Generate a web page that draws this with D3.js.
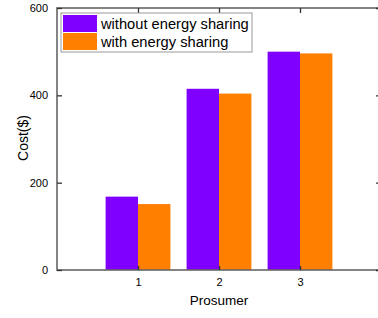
<!DOCTYPE html>
<html>
<head>
<meta charset="utf-8">
<script src="https://cdn.jsdelivr.net/npm/d3@7"></script>
<style>
body { margin: 0; background: #fff; }
text { font-family: Arial, "Liberation Sans", sans-serif; }
</style>
</head>
<body>
<script>
let categories = [1, 2, 3];
let withoutSharing = [168, 415, 500];
let withSharing = [151, 404, 496];
let seriesNames = ['without energy sharing', 'with energy sharing'];
let seriesColors = ['#8000ff', '#ff8000'];
let yTicks = [0, 200, 400, 600];

let W = 378, H = 318;
let padL = 57, padT = 8, plotW = 324, plotH = 262;

let svg = d3.select('body').append('svg')
    .attr('width', W)
    .attr('height', H);

let x = d3.scaleLinear().domain([0, 4]).range([padL, padL + plotW]);
let y = d3.scaleLinear().domain([0, 600]).range([padT + plotH, padT]);
let bw = x(0.4) - x(0);

let series = [withoutSharing, withSharing];
series.forEach(function(vals, s) {
    svg.append('g').selectAll('rect')
        .data(vals)
        .enter().append('rect')
            .attr('x', (d, i) => s == 0 ? x(categories[i]) - bw : x(categories[i]))
            .attr('y', d => y(d))
            .attr('width', bw)
            .attr('height', d => y(0) - y(d))
            .attr('fill', seriesColors[s]);
});

// frame
let frameColor = '#666';
svg.append('rect')
    .attr('x', padL).attr('y', padT)
    .attr('width', plotW).attr('height', plotH)
    .attr('fill', 'none')
    .attr('stroke', frameColor)
    .attr('stroke-width', 1.6);

// axes with inward ticks
let yAxisL = svg.append('g').attr('transform', 'translate(' + padL + ',0)')
    .call(d3.axisLeft(y).tickValues(yTicks).tickSize(-5).tickPadding(9));
let yAxisR = svg.append('g').attr('transform', 'translate(' + (padL + plotW) + ',0)')
    .call(d3.axisRight(y).tickValues(yTicks).tickSize(-5).tickFormat(''));
let xAxisB = svg.append('g').attr('transform', 'translate(0,' + (padT + plotH) + ')')
    .call(d3.axisBottom(x).tickValues(categories).tickSize(-4).tickPadding(8).tickFormat(d3.format('d')));
let xAxisT = svg.append('g').attr('transform', 'translate(0,' + padT + ')')
    .call(d3.axisTop(x).tickValues(categories).tickSize(-5).tickFormat(''));

[yAxisL, yAxisR, xAxisB, xAxisT].forEach(function(a) {
    a.select('.domain').remove();
    a.selectAll('.tick line').attr('stroke', '#333').attr('stroke-width', 1.3);
    a.selectAll('.tick text')
        .attr('font-size', 11)
        .attr('font-family', 'Arial, "Liberation Sans", sans-serif')
        .attr('fill', '#000');
});

// axis titles
svg.append('text')
    .attr('x', x(2))
    .attr('y', 305)
    .attr('text-anchor', 'middle')
    .attr('font-size', 13.5)
    .text('Prosumer');
svg.append('text')
    .attr('transform', 'translate(28,138) rotate(-90)')
    .attr('text-anchor', 'middle')
    .attr('font-size', 14)
    .text('Cost($)');

// legend
let lg = svg.append('g');
lg.append('rect')
    .attr('x', 61).attr('y', 13)
    .attr('width', 191).attr('height', 39)
    .attr('fill', '#fff')
    .attr('stroke', '#999')
    .attr('stroke-width', 1);
seriesNames.forEach(function(name, i) {
    lg.append('rect')
        .attr('x', 63).attr('y', 15 + i * 18)
        .attr('width', 34).attr('height', 17)
        .attr('fill', seriesColors[i]);
    lg.append('text')
        .attr('x', 101).attr('y', 29 + i * 18)
        .attr('font-size', 14.7)
        .text(name);
});
</script>
</body>
</html>
